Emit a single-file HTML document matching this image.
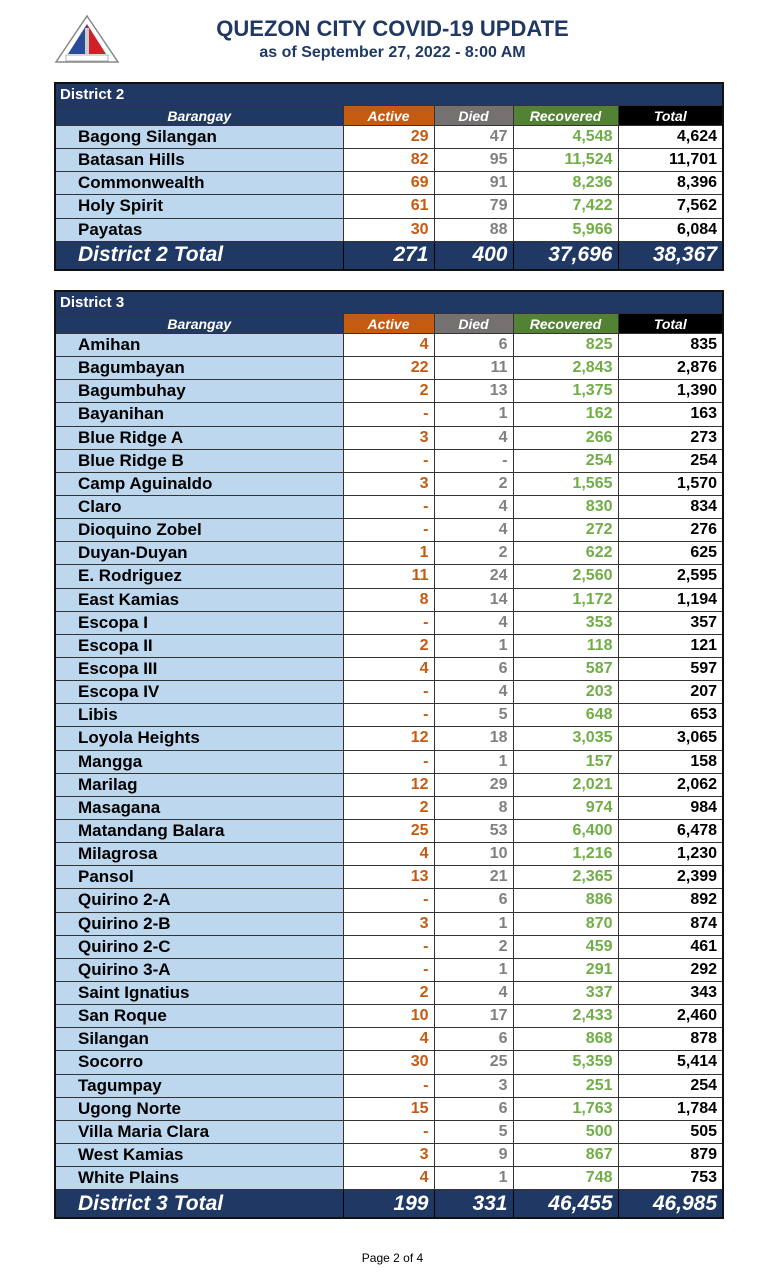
<!DOCTYPE html>
<html><head><meta charset="utf-8"><style>
body{margin:0;width:777px;height:1280px;background:#fff;position:relative;font-family:"Liberation Sans",sans-serif;overflow:hidden}
.t1{position:absolute;top:16px;left:0;width:777px;text-align:center;color:#1f3864;font-weight:bold;font-size:22px;padding-left:8px;box-sizing:border-box}
.t2{position:absolute;top:44px;left:0;width:777px;text-align:center;color:#1f3864;font-weight:bold;font-size:16px;padding-left:8px;box-sizing:border-box}
table{position:absolute;left:54px;width:668px;border-collapse:collapse;table-layout:fixed;border:2px solid #111}
td{border:1px solid #333;padding:0 5px;white-space:nowrap;overflow:hidden;font-weight:bold;font-size:16px;text-align:right;background:#fff}
td.n{background:#bdd7ee;text-align:left;padding-left:22px;color:#000;font-size:17px}
td.a{color:#c55a11}td.d{color:#808080}td.r{color:#70ad47}td.t{color:#000}
tr.ti td{background:#1f3864;color:#fff;text-align:left;font-size:15px;padding-left:4px;height:21px}
tr.h td{color:#fff;font-style:italic;text-align:center;font-size:14px;height:19px}
tr.h td.hb{background:#1f3864}tr.h td.ha{background:#c55a11}tr.h td.hd{background:#767171}tr.h td.hr{background:#548235}tr.h td.ht{background:#000}
tr.tot td{background:#1f3864;color:#fff;font-style:italic;font-size:21px;height:27px;border:1px solid #000}
tr.tot td.n{background:#1f3864;padding-left:22px}
.pg{position:absolute;top:1251px;left:0;width:777px;text-align:center;font-size:12px;padding-left:8px;box-sizing:border-box}
</style></head><body>
<svg style="position:absolute;left:54px;top:14px" width="66" height="50" viewBox="0 0 66 50">
<polygon points="33,2 64,48 2,48" fill="#fff" stroke="#888" stroke-width="1.5"/>
<polygon points="33,10 33,40 14,40" fill="#2a4a9a"/><polygon points="33,10 52,40 33,40" fill="#d0202a"/>
<rect x="31" y="14" width="4" height="26" fill="#ccc"/>
<rect x="12" y="41" width="42" height="6" fill="#fff" stroke="#666" stroke-width=".5"/>
</svg>
<div class="t1">QUEZON CITY COVID-19 UPDATE</div>
<div class="t2">as of September 27, 2022 - 8:00 AM</div>
<table style="top:82px">
<colgroup><col style="width:288px"><col style="width:91px"><col style="width:79px"><col style="width:105px"><col style="width:105px"></colgroup>
<tr class="ti"><td colspan="5">District 2</td></tr>
<tr class="h"><td class="hb">Barangay</td><td class="ha">Active</td><td class="hd">Died</td><td class="hr">Recovered</td><td class="ht">Total</td></tr>
<tbody id="d2"></tbody>
<tr class="tot"><td class="n">District 2 Total</td><td>271</td><td>400</td><td>37,696</td><td>38,367</td></tr>
</table>
<table style="top:290px">
<colgroup><col style="width:288px"><col style="width:91px"><col style="width:79px"><col style="width:105px"><col style="width:105px"></colgroup>
<tr class="ti"><td colspan="5">District 3</td></tr>
<tr class="h"><td class="hb">Barangay</td><td class="ha">Active</td><td class="hd">Died</td><td class="hr">Recovered</td><td class="ht">Total</td></tr>
<tbody id="d3"></tbody>
<tr class="tot"><td class="n">District 3 Total</td><td>199</td><td>331</td><td>46,455</td><td>46,985</td></tr>
</table>
<div class="pg">Page 2 of 4</div>
<script>
function fill(id,rows){var h='';rows.forEach(function(r){var p=r.split('|');h+='<tr style="height:23.15px"><td class="n">'+p[0]+'</td><td class="a">'+p[1]+'</td><td class="d">'+p[2]+'</td><td class="r">'+p[3]+'</td><td class="t">'+p[4]+'</td></tr>';});document.getElementById(id).innerHTML=h;}
fill('d2',["Bagong Silangan|29|47|4,548|4,624","Batasan Hills|82|95|11,524|11,701","Commonwealth|69|91|8,236|8,396","Holy Spirit|61|79|7,422|7,562","Payatas|30|88|5,966|6,084"]);
fill('d3',["Amihan|4|6|825|835","Bagumbayan|22|11|2,843|2,876","Bagumbuhay|2|13|1,375|1,390","Bayanihan|-|1|162|163","Blue Ridge A|3|4|266|273","Blue Ridge B|-|-|254|254","Camp Aguinaldo|3|2|1,565|1,570","Claro|-|4|830|834","Dioquino Zobel|-|4|272|276","Duyan-Duyan|1|2|622|625","E. Rodriguez|11|24|2,560|2,595","East Kamias|8|14|1,172|1,194","Escopa I|-|4|353|357","Escopa II|2|1|118|121","Escopa III|4|6|587|597","Escopa IV|-|4|203|207","Libis|-|5|648|653","Loyola Heights|12|18|3,035|3,065","Mangga|-|1|157|158","Marilag|12|29|2,021|2,062","Masagana|2|8|974|984","Matandang Balara|25|53|6,400|6,478","Milagrosa|4|10|1,216|1,230","Pansol|13|21|2,365|2,399","Quirino 2-A|-|6|886|892","Quirino 2-B|3|1|870|874","Quirino 2-C|-|2|459|461","Quirino 3-A|-|1|291|292","Saint Ignatius|2|4|337|343","San Roque|10|17|2,433|2,460","Silangan|4|6|868|878","Socorro|30|25|5,359|5,414","Tagumpay|-|3|251|254","Ugong Norte|15|6|1,763|1,784","Villa Maria Clara|-|5|500|505","West Kamias|3|9|867|879","White Plains|4|1|748|753"]);
</script>
</body></html>
